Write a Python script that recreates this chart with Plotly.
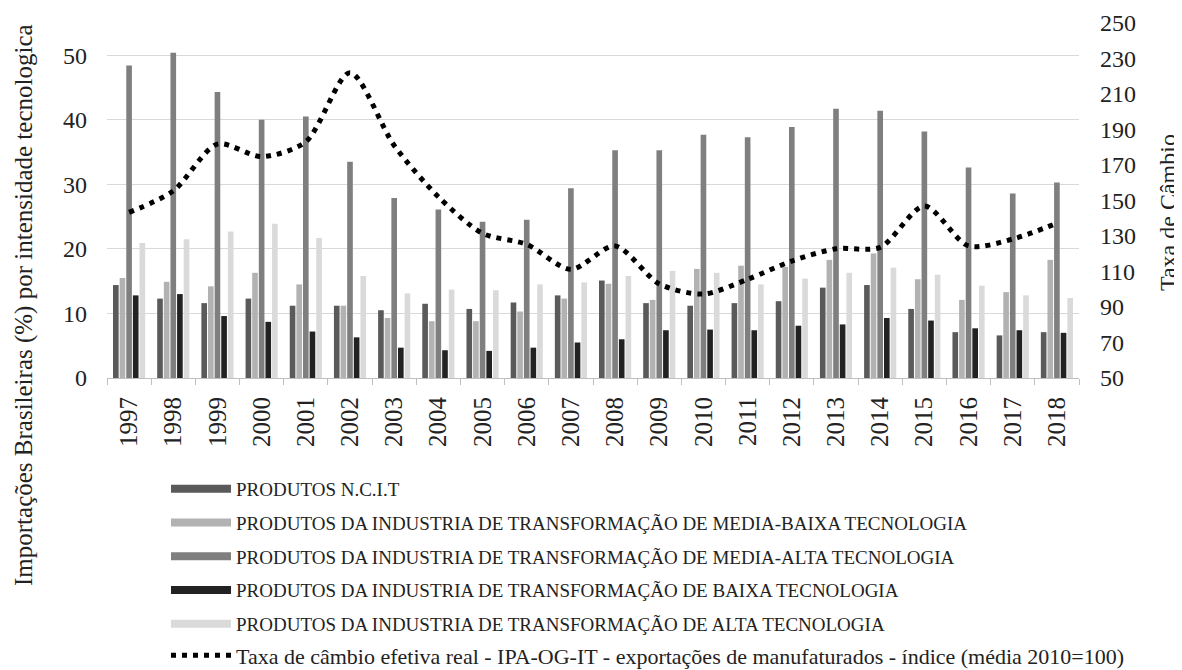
import plotly.graph_objects as go

years = [str(y) for y in range(1997, 2019)]

ncit = [14.4, 12.3, 11.6, 12.3, 11.2, 11.2, 10.5, 11.5, 10.7, 11.7, 12.8,
        15.1, 11.6, 11.2, 11.6, 11.9, 14.0, 14.4, 10.7, 7.1, 6.6, 7.1]
media_baixa = [15.5, 14.9, 14.2, 16.3, 14.5, 11.2, 9.3, 8.8, 8.8, 10.3, 12.3,
               14.6, 12.1, 16.9, 17.4, 17.2, 18.3, 19.3, 15.3, 12.1, 13.3, 18.3]
media_alta = [48.4, 50.4, 44.3, 40.0, 40.5, 33.5, 27.9, 26.1, 24.2, 24.5, 29.4,
              35.3, 35.3, 37.7, 37.3, 38.9, 41.7, 41.4, 38.2, 32.6, 28.6, 30.3]
baixa = [12.8, 13.0, 9.6, 8.7, 7.2, 6.3, 4.7, 4.3, 4.2, 4.7, 5.5,
         6.0, 7.4, 7.5, 7.4, 8.1, 8.3, 9.3, 8.9, 7.7, 7.4, 7.0]
alta = [20.9, 21.5, 22.7, 23.9, 21.7, 15.8, 13.1, 13.7, 13.6, 14.5, 14.8,
        15.8, 16.6, 16.3, 14.5, 15.4, 16.3, 17.1, 16.0, 14.3, 12.8, 12.4]
cambio = [143.3, 155.4, 181.8, 174.7, 183.1, 222.0, 181.0, 152.1, 131.5, 125.3, 111.2,
          124.4, 103.0, 97.3, 105.6, 115.9, 122.8, 123.6, 146.9, 124.4, 128.3, 137.2]

series_names = [
    "PRODUTOS N.C.I.T",
    "PRODUTOS DA INDUSTRIA DE TRANSFORMAÇÃO DE MEDIA-BAIXA TECNOLOGIA",
    "PRODUTOS DA INDUSTRIA DE TRANSFORMAÇÃO DE MEDIA-ALTA TECNOLOGIA",
    "PRODUTOS DA INDUSTRIA DE TRANSFORMAÇÃO DE BAIXA TECNOLOGIA",
    "PRODUTOS DA INDUSTRIA DE TRANSFORMAÇÃO DE ALTA TECNOLOGIA",
]
line_name = "Taxa de câmbio efetiva real - IPA-OG-IT - exportações de manufaturados - índice (média 2010=100)"
colors = ["#5a5a5a", "#b2b2b2", "#7f7f7f", "#222222", "#dadada"]
series_values = [ncit, media_baixa, media_alta, baixa, alta]

FONT = "Liberation Serif"
TXT = "#222222"
fig = go.Figure()

for name, vals, col in zip(series_names, series_values, colors):
    fig.add_trace(go.Bar(x=years, y=vals, name=name, marker_color=col,
                         marker_line_width=0, showlegend=False, yaxis="y"))

# legend swatches (wide rectangles like the reference)
for i, (name, col) in enumerate(zip(series_names, colors)):
    fig.add_trace(go.Scatter(x=[None], y=[None], mode="lines", name=name,
                             line=dict(color=col, width=8), legendgroup=f"g{i}",
                             showlegend=True, legend="legend"))

fig.add_trace(go.Scatter(x=years, y=cambio, name=line_name, mode="lines",
                         line=dict(color="black", width=5, dash="5px,6px", shape="spline", smoothing=0.8),
                         yaxis="y2", legend="legend2"))

fig.update_layout(
    width=1182, height=670,
    margin=dict(l=99, r=111, t=15, b=300, autoexpand=False),
    paper_bgcolor="white", plot_bgcolor="white",
    font=dict(family=FONT, color=TXT, size=18),
    barmode="group", bargap=0.25, bargroupgap=0.15,
    xaxis=dict(type="category", showline=True, linecolor="#bfbfbf", linewidth=1,
               ticks="outside", tickson="boundaries", ticklen=6, tickcolor="#bfbfbf",
               tickangle=-90, ticklabelstandoff=8, automargin=False,
               tickfont=dict(size=25, family=FONT, color=TXT),
               showgrid=False),
    yaxis=dict(range=[0, 55], tickvals=[0, 10, 20, 30, 40, 50], showgrid=True,
               gridcolor="#d9d9d9", gridwidth=1, zeroline=False, showline=False,
               automargin=False,
               ticklabelstandoff=19, tickfont=dict(size=24, family=FONT, color=TXT)),
    yaxis2=dict(range=[50, 250], tickvals=list(range(50, 251, 20)), overlaying="y",
                side="right", showgrid=False, zeroline=False, showline=False,
                automargin=False,
                ticklabelstandoff=20, tickfont=dict(size=24, family=FONT, color=TXT)),
    legend=dict(x=0.0607, xanchor="left", y=-0.2592, yanchor="top", orientation="v",
                itemwidth=60, tracegroupgap=6, bgcolor="rgba(0,0,0,0)",
                font=dict(size=19, family=FONT, color=TXT)),
    legend2=dict(x=0.0607, xanchor="left", y=-0.7225, yanchor="top", orientation="v",
                 itemwidth=60, bgcolor="rgba(0,0,0,0)",
                 font=dict(size=22, family=FONT, color=TXT)),
    annotations=[
        dict(text="Importações Brasileiras (%) por intensidade tecnologica", textangle=-90,
             xref="paper", yref="paper", x=-0.0854, y=0.2056,
             xanchor="center", yanchor="middle", showarrow=False,
             font=dict(size=25, family=FONT, color=TXT)),
        dict(text="Taxa de Câmbio", textangle=-90,
             xref="paper", yref="paper", x=1.0916, y=0.4648,
             xanchor="center", yanchor="middle", showarrow=False,
             font=dict(size=24, family=FONT, color=TXT)),
    ],
)

fig.write_html("out.html")
